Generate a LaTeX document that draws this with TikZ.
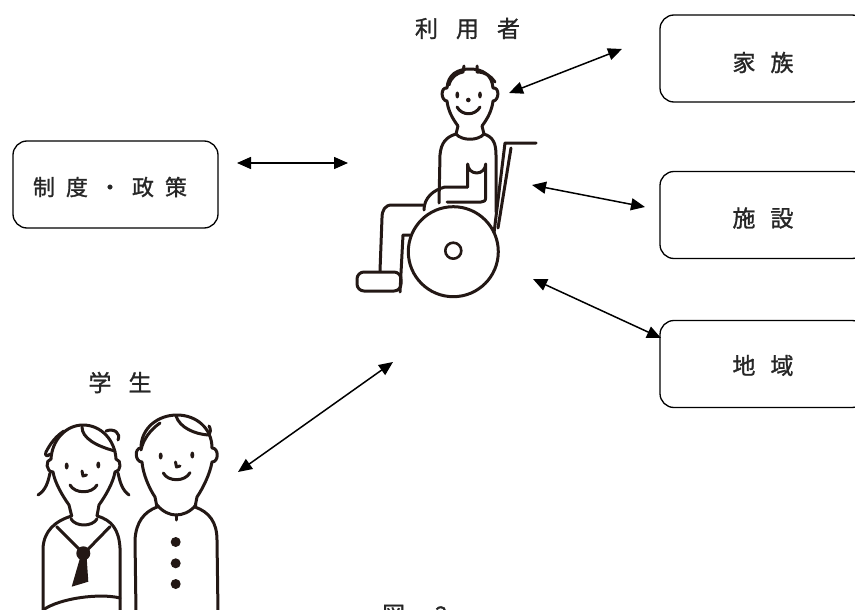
\documentclass[tikz,border=0pt]{standalone}
\usepackage{fontspec}
\newfontfamily\jpfont[FakeBold=1.2]{Noto Sans CJK JP}
\usetikzlibrary{arrows.meta}
\definecolor{ink}{HTML}{231815}
\definecolor{txt}{HTML}{262626}

\begin{document}
\begin{tikzpicture}[x=1pt,y=-1pt,
  jtext/.style={font=\jpfont\fontsize{23}{23}\selectfont, text=txt, inner sep=0pt},
  rbox/.style={draw=black, line width=1.3pt, rounded corners=14pt,
    minimum width=206pt, minimum height=87pt, inner sep=0pt},
  link/.style={line width=1.5pt,
    {Triangle[length=14pt,width=12pt]}-{Triangle[length=14pt,width=12pt]}},
  fig/.style={draw=ink, line width=3pt, line cap=round, line join=round},
]
\useasboundingbox (0,0) rectangle (855,610);
\clip (0,0) rectangle (855,610);

% ---------- boxes ----------
\node[rbox] (fam) at (763,58.5) {};
\node[jtext] (famt) at (763,62.5) {家\hspace{15pt}族};
\node[rbox] (fac) at (763,215) {};
\node[jtext] (fact) at (763,218) {施\hspace{15pt}設};
\node[rbox] (reg) at (763,364) {};
\node[jtext] (regt) at (763,365.5) {地\hspace{15pt}域};
\node[rbox, minimum width=205pt] (pol) at (115.5,184.5) {};
\node[jtext, font=\jpfont\fontsize{22}{22}\selectfont] (polt) at (110,187)
  {制\hspace{11pt}度\hspace{11pt}・\hspace{11pt}政\hspace{11pt}策};

% ---------- titles ----------
\node[jtext] (user) at (467.5,28.5) {利\hspace{18pt}用\hspace{18pt}者};
\node[jtext] (stud) at (120,382.5) {学\hspace{17pt}生};
\node[jtext, anchor=base] (cap) at (415,623) {図\hspace{30pt}2};

% ---------- arrow end points ----------
\coordinate (polA) at (237,163);  \coordinate (polB) at (348,163);
\coordinate (famA) at (509,93);   \coordinate (famB) at (622,49);
\coordinate (facA) at (532,185);  \coordinate (facB) at (645,207);
\coordinate (regA) at (533,279);  \coordinate (regB) at (661,338);
\coordinate (stuA) at (238,472);  \coordinate (stuB) at (393,362);

\draw[link] (polA) -- (polB);
\draw[link] (famA) -- (famB);
\draw[link] (facA) -- (facB);
\draw[link] (regA) -- (regB);
\draw[link] (stuA) -- (stuB);

% ---------- person in wheelchair ----------
% head with ears and jaw
\draw[fig] (458,126) .. controls (452,118) and (448,110) .. (447,101)
  .. controls (441,101) and (440,87) .. (447,88)
  .. controls (448,74) and (458,69) .. (470,69)
  .. controls (483,69) and (492,75) .. (493,88)
  .. controls (500,87) and (499,101) .. (493,101)
  .. controls (492,110) and (488,118) .. (482,126);
% hair
\draw[fig] (449,85) .. controls (451,77) and (457,73) .. (463,72) -- (464,66);
\draw[fig] (477,66) -- (477,72) .. controls (485,72) and (491,76) .. (495,82);
% face
\fill[ink] (457.3,95) ellipse (1.9 and 3.5);
\fill[ink] (480,95) ellipse (1.9 and 3.5);
\fill[ink] (468.3,100) circle (2.3);
\draw[fig] (457,107) .. controls (462,116) and (475,116) .. (480,107);
% neck, shoulders, torso
\draw[fig] (458,126) -- (456,134) .. controls (446,137) and (441,143) .. (440,155) -- (439,203);
\draw[fig] (482,126) -- (484,134) .. controls (493,137) and (496,143) .. (496,155) -- (496,212);
\draw[fig] (456,134) .. controls (462,141) and (478,141) .. (484,134);
% arm and hand
\draw[fig] (467.7,187) -- (467.7,164) arc (180:0:9) -- (485.7,197)
  .. controls (485.7,201) and (484,202) .. (481,202) -- (447,202);
\draw[fig] (467.7,187) -- (445,187) .. controls (433,190) and (424,198) .. (424,210);
% legs and foot
\draw[fig] (423,205) -- (392,205) .. controls (385,205) and (382,210) .. (382,218) -- (380,271);
\draw[fig, rounded corners=7pt] (357,272) rectangle (401,291);
% front frame
\draw[fig] (410,235) -- (403,235) -- (400,292);
% back frame and handle
\draw[fig] (536,143) -- (505,143) -- (494,233);
\draw[fig] (511,148) -- (498,228);
% wheel
\draw[fig] (453.3,251.7) circle (45);
\draw[fig, line width=2.6pt] (453.3,250.7) circle (8);

% ---------- girl ----------
\draw[fig] (71.7,516) -- (69,505) .. controls (62,495) and (55,483) .. (53,472)
  .. controls (46,472) and (45,460) .. (51,459)
  .. controls (52,440) and (66,425) .. (83,425)
  .. controls (101,425) and (115,440) .. (116,459)
  .. controls (122,460) and (121,472) .. (115,472)
  .. controls (113,483) and (106,495) .. (99,505) -- (97,516);
% hair
\draw[fig] (82,427) .. controls (82,438) and (96,446) .. (115,451);
\draw[fig] (64,431) .. controls (56,436) and (50,444) .. (46,452)
  .. controls (44,456) and (48,457) .. (50,454);
\draw[fig] (106,431) .. controls (114,428) and (121,433) .. (118,440);
\draw[fig] (50,473) .. controls (48,482) and (46,490) .. (38,495);
\draw[fig] (118,473) .. controls (120,482) and (122,490) .. (129,495);
% face
\fill[ink] (66.7,466) ellipse (2 and 3.5);
\fill[ink] (98.3,465) ellipse (2 and 3.5);
\draw[fig] (82,471) -- (83,476) -- (86.5,475);
\draw[fig] (70,485) .. controls (75,494) and (92,494) .. (97,485);
% body
\draw[fig] (71.7,516) .. controls (55,521) and (44,531) .. (43,548) -- (43,612);
\draw[fig] (97,516) .. controls (112,520) and (119,530) .. (120,548) -- (120,612);
\draw[fig] (43,610) .. controls (60,598) and (100,593) .. (120,598);
\draw[fig] (71,519) .. controls (76,527) and (92,527) .. (97,519);
\draw[fig] (56.7,526.7) -- (80,550);
\draw[fig] (110,526.7) -- (87.3,550);
\fill[ink] (83.3,553.3) circle (7);
\fill[ink] (80,558) -- (86.7,558) -- (88.3,581.7) -- (71.7,586.7) -- cycle;

% ---------- boy ----------
\draw[fig] (157,507) -- (155,497) .. controls (149,488) and (143,474) .. (142,462)
  .. controls (135,462) and (134,448) .. (141,448)
  .. controls (141,428) and (158,415) .. (177,415)
  .. controls (196,415) and (212,428) .. (212,448)
  .. controls (219,448) and (219,462) .. (212,462)
  .. controls (210,474) and (203,488) .. (197,497) -- (195,507);
% hair
\draw[fig] (141,450) .. controls (143,440) and (150,430) .. (160,423);
\draw[fig] (176,416) .. controls (180,428) and (195,434) .. (208,435)
  .. controls (211,433) and (211,429) .. (209,426);
% face
\fill[ink] (160.7,456) ellipse (2 and 3.5);
\fill[ink] (192.3,455) ellipse (2 and 3.5);
\draw[fig] (175.5,462) -- (176.5,467) -- (180,466);
\draw[fig] (163.3,473) .. controls (168,482) and (185,482) .. (190,472.7);
% collar and body
\draw[fig] (157,505) .. controls (163,512) and (170,515) .. (176,515)
  .. controls (183,515) and (190,512) .. (196,505);
\draw[fig] (176,515) -- (176,520);
\draw[fig] (157,507) .. controls (144,512) and (136,522) .. (135,540) -- (136,612);
\draw[fig] (195,507) .. controls (209,512) and (217,522) .. (217,540) -- (218,612);
\fill[ink] (175.7,542) circle (5);
\fill[ink] (175.7,563.3) circle (5);
\fill[ink] (175.7,584) circle (5);
\end{tikzpicture}
\end{document}
